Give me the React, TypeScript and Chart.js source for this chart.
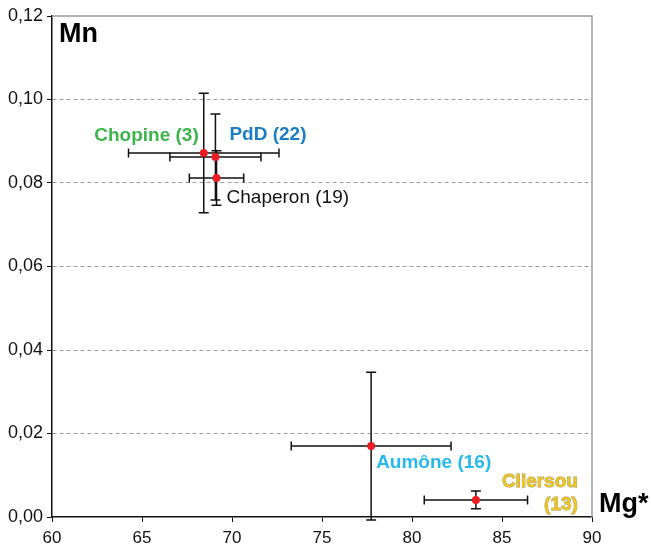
import React, { useEffect, useRef } from "react";
import { Chart, registerables } from "chart.js";

Chart.register(...registerables);

const sites = ["Chopine (3)", "PdD (22)", "Chaperon (19)", "Aumône (16)", "Cliersou (13)"];
const mgValues = [68.43, 69.08, 69.14, 77.73, 83.55];
const mnValues = [0.0872, 0.0862, 0.0812, 0.017, 0.0041];
const mgErr = [4.18, 2.53, 1.51, 4.44, 2.87];
const mnErr = [0.0143, 0.0103, 0.0065, 0.0177, 0.0021];
const xTicks = [60, 65, 70, 75, 80, 85, 90];
const yTicks = [0, 0.02, 0.04, 0.06, 0.08, 0.1, 0.12];

const FONT = "'Liberation Sans', Arial, Helvetica, sans-serif";

const labelStyles = [
  { color: "#3cb54a", bold: true, align: "right", dx: -5, dy: -12 },
  { color: "#1b7dc2", bold: true, align: "left", dx: 14, dy: -17 },
  { color: "#111111", bold: false, align: "left", dx: 10, dy: 25 },
  { color: "#27b9ec", bold: true, align: "left", dx: 5, dy: 22 },
  { color: "#ebc52a", bold: true, align: "right", dx: 102, dy: -13, outline: "#a89240" },
];

const errorBarPlugin = {
  id: "errorBars",
  beforeDatasetsDraw(chart: any) {
    const { ctx, scales } = chart;
    const xs = scales.x;
    const ys = scales.y;
    ctx.save();
    ctx.strokeStyle = "#111";
    ctx.lineWidth = 1.5;
    for (let i = 0; i < mgValues.length; i++) {
      const cx = xs.getPixelForValue(mgValues[i]);
      const cy = ys.getPixelForValue(mnValues[i]);
      const x1 = xs.getPixelForValue(mgValues[i] - mgErr[i]);
      const x2 = xs.getPixelForValue(mgValues[i] + mgErr[i]);
      const y1 = ys.getPixelForValue(mnValues[i] + mnErr[i]);
      const y2 = ys.getPixelForValue(mnValues[i] - mnErr[i]);
      ctx.beginPath();
      ctx.moveTo(x1, cy); ctx.lineTo(x2, cy);
      ctx.moveTo(x1, cy - 4.5); ctx.lineTo(x1, cy + 4.5);
      ctx.moveTo(x2, cy - 4.5); ctx.lineTo(x2, cy + 4.5);
      ctx.moveTo(cx, y1); ctx.lineTo(cx, y2);
      ctx.moveTo(cx - 5, y1); ctx.lineTo(cx + 5, y1);
      ctx.moveTo(cx - 5, y2); ctx.lineTo(cx + 5, y2);
      ctx.stroke();
    }
    ctx.restore();
  },
  afterDatasetsDraw(chart: any) {
    const { ctx, scales, chartArea } = chart;
    const xs = scales.x;
    const ys = scales.y;
    ctx.save();
    ctx.strokeStyle = "#9a9a9a";
    ctx.lineWidth = 1.5;
    ctx.beginPath();
    ctx.moveTo(chartArea.left, chartArea.top);
    ctx.lineTo(chartArea.right, chartArea.top);
    ctx.lineTo(chartArea.right, chartArea.bottom);
    ctx.stroke();

    ctx.textBaseline = "alphabetic";
    for (let i = 0; i < sites.length; i++) {
      const st: any = labelStyles[i];
      const px = xs.getPixelForValue(mgValues[i]) + st.dx;
      const py = ys.getPixelForValue(mnValues[i]) + st.dy;
      ctx.font = `${st.bold ? "bold " : ""}19px ${FONT}`;
      ctx.textAlign = st.align;
      ctx.fillStyle = st.color;
      const lines = i === 4 ? ["Cliersou", "(13)"] : [sites[i]];
      lines.forEach((line: string, k: number) => {
        const yy = py + k * 23;
        if (st.outline) {
          ctx.lineWidth = 0.8;
          ctx.strokeStyle = st.outline;
          ctx.strokeText(line, px, yy);
        }
        ctx.fillText(line, px, yy);
      });
    }

    ctx.fillStyle = "#000";
    ctx.font = `bold 27px ${FONT}`;
    ctx.textAlign = "left";
    ctx.fillText("Mn", chartArea.left + 7, chartArea.top + 26);
    ctx.fillText("Mg*", chartArea.right + 7, chartArea.bottom - 5);
    ctx.restore();
  },
};

export default function App() {
  const ref = useRef<HTMLCanvasElement | null>(null);
  useEffect(() => {
    if (!ref.current) return;
    const chart = new Chart(ref.current, {
      type: "scatter",
      data: {
        datasets: [
          {
            label: "Mn vs Mg*",
            data: mgValues.map((x, i) => ({ x, y: mnValues[i] })),
            backgroundColor: "#ee1c24",
            borderWidth: 0,
            pointRadius: 4,
          },
        ],
      },
      options: {
        responsive: false,
        animation: false,
        devicePixelRatio: 1,
        layout: { padding: { top: 16, right: 59, left: 0, bottom: 0 } },
        plugins: { legend: { display: false }, tooltip: { enabled: false } },
        scales: {
          x: {
            type: "linear",
            min: 60,
            max: 90,
            afterBuildTicks: (s: any) => { s.ticks = xTicks.map((v) => ({ value: v })); },
            afterFit: (s: any) => { s.height = 35; },
            ticks: {
              color: "#111",
              font: { family: FONT, size: 17 },
              padding: 6,
              callback: (v: any) => String(v),
              maxRotation: 0,
            },
            grid: { drawOnChartArea: false, drawTicks: true, tickLength: 5, tickColor: "#111", tickWidth: 1 },
            border: { color: "#111", width: 1.5 },
          },
          y: {
            type: "linear",
            min: 0,
            max: 0.12,
            afterBuildTicks: (s: any) => { s.ticks = yTicks.map((v) => ({ value: v })); },
            afterFit: (s: any) => { s.width = 52; },
            ticks: {
              color: "#111",
              font: { family: FONT, size: 18 },
              padding: 4,
              callback: (v: any) => Number(v).toFixed(2).replace(".", ","),
            },
            grid: {
              color: (c: any) => {
                const v = c.tick ? c.tick.value : null;
                return v === 0 || v === 0.12 ? "rgba(0,0,0,0)" : "#9a9a9a";
              },
              lineWidth: 1,
              drawTicks: true,
              tickLength: 5,
              tickColor: "#111",
              tickWidth: 1,
            },
            border: { color: "#111", width: 1.5, dash: [4, 3] },
          },
        },
      } as any,
      plugins: [errorBarPlugin],
    });
    return () => chart.destroy();
  }, []);
  return (
    <div style={{ position: "absolute", left: 0, top: 0, width: 651, height: 552, background: "#fff" }}>
      <canvas ref={ref} width={651} height={552} />
    </div>
  );
}
